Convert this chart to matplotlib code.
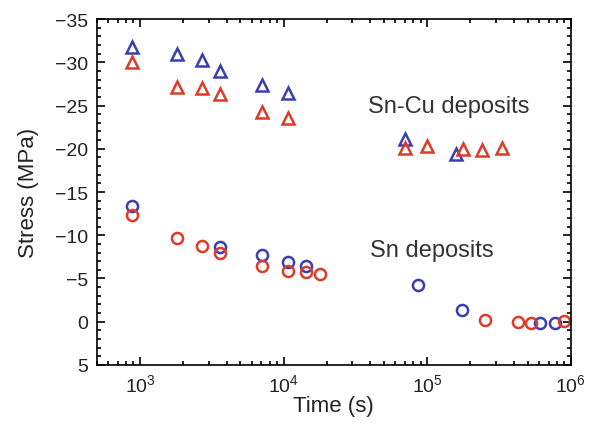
import numpy as np
import matplotlib.pyplot as plt
from matplotlib.ticker import MultipleLocator, LogLocator, NullFormatter

plt.rcParams['font.family'] = ['Liberation Sans', 'DejaVu Sans']
plt.rcParams['mathtext.fontset'] = 'custom'
plt.rcParams['mathtext.rm'] = 'Liberation Sans'
plt.rcParams['mathtext.it'] = 'Liberation Sans:italic'
plt.rcParams['mathtext.bf'] = 'Liberation Sans:bold'

# Sn-Cu deposits (triangles)
sncu_blue_t = [880, 1800, 2680, 3590, 7110, 10800, 70000, 158000]
sncu_blue_s = [-31.8, -31.0, -30.3, -29.0, -27.4, -26.5, -21.1, -19.4]
sncu_red_t = [880, 1800, 2680, 3590, 7110, 10800, 70000, 98900, 178700, 242000, 330000]
sncu_red_s = [-30.0, -27.2, -27.0, -26.3, -24.2, -23.6, -20.1, -20.3, -20.0, -19.8, -20.1]

# Sn deposits (circles)
sn_blue_t = [880, 3590, 7110, 10800, 14200, 85700, 176000, 607000, 771000]
sn_blue_s = [-13.4, -8.6, -7.7, -6.9, -6.5, -4.2, -1.4, 0.1, 0.1]
sn_red_t = [880, 1800, 2680, 3590, 7110, 10800, 14200, 18000, 253000, 430000, 530000, 893000]
sn_red_s = [-12.3, -9.7, -8.8, -8.0, -6.5, -5.9, -5.7, -5.5, -0.2, 0.0, 0.1, -0.1]

blue = '#3a3fb0'
red = '#de3b2a'

fig = plt.figure(figsize=(5.94, 4.27), dpi=100)
ax = fig.add_axes([0.163, 0.143, 0.798, 0.81])

mk = dict(linestyle='none', markerfacecolor='none', markeredgewidth=1.8, markersize=8)
ax.plot(sncu_blue_t, sncu_blue_s, marker='^', markeredgecolor=blue, **mk)
ax.plot(sncu_red_t, sncu_red_s, marker='^', markeredgecolor=red, **mk)
ax.plot(sn_blue_t, sn_blue_s, marker='o', markeredgecolor=blue, **mk)
ax.plot(sn_red_t, sn_red_s, marker='o', markeredgecolor=red, **mk)

ax.set_xscale('log')
ax.set_xlim(500, 1e6)
ax.set_ylim(5, -35)
ax.yaxis.set_major_locator(MultipleLocator(5))
ax.yaxis.set_minor_locator(MultipleLocator(1))
ax.xaxis.set_major_locator(LogLocator(base=10))
ax.xaxis.set_minor_locator(LogLocator(base=10, subs=np.arange(2, 10)))
ax.xaxis.set_minor_formatter(NullFormatter())

ax.tick_params(which='both', direction='in', top=True, right=True, labelsize=14,
               width=1.2, labelcolor='#222222')
ax.tick_params(which='major', length=6, pad=6)
ax.tick_params(which='minor', length=3)
for s in ax.spines.values():
    s.set_linewidth(1.2)

ax.set_xlabel('Time (s)', fontsize=16, labelpad=0, color='#222222')
ax.set_ylabel('Stress (MPa)', fontsize=16, labelpad=12, color='#222222')

ax.text(1.42e5, -24.9, 'Sn-Cu deposits', fontsize=17, ha='center', va='center', color='#333333')
ax.text(1.07e5, -8.35, 'Sn deposits', fontsize=17, ha='center', va='center', color='#333333')

fig.savefig('out.png', dpi=100)
